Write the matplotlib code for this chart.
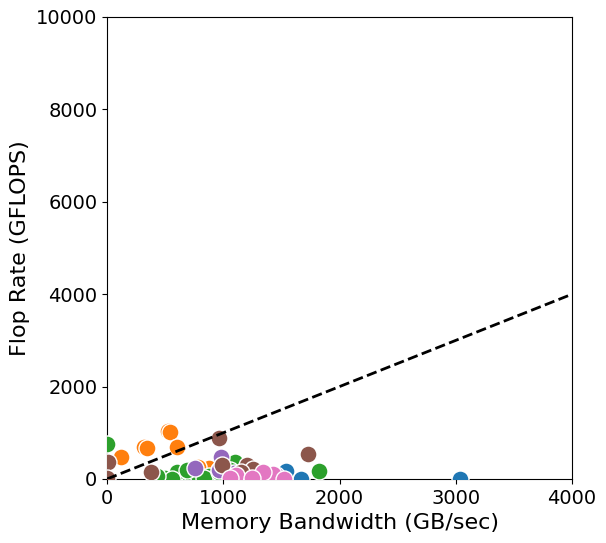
import numpy as np
import matplotlib.pyplot as plt

# Dados (GB/s, GFLOPS)
blue_bw = [3040, 1540, 1670, 1020, 1180]
blue_fl = [10, 170, 10, 60, 20]

orange_bw = [120, 320, 345, 525, 545, 600, 880, 780, 960, 1000]
orange_fl = [475, 690, 670, 1040, 1010, 690, 240, 260, 200, 180]

green_bw = [0, 1825, 500, 650, 730, 600, 1100, 1060, 880, 780, 830, 560, 430, 960, 1230, 690]
green_fl = [760, 170, 30, 20, 80, 150, 370, 200, 60, 90, 20, 10, 60, 160, 100, 200]

purple_bw = [760, 980, 960, 1090, 1450]
purple_fl = [240, 475, 200, 140, 80]

brown_bw = [10, 0, 380, 960, 990, 1200, 1730, 1260, 1150]
brown_fl = [370, 20, 150, 890, 300, 300, 540, 210, 160]

pink_bw = [1430, 1340, 1110, 1250, 1520, 1060]
pink_fl = [100, 150, 90, 20, 10, 30]

grupos = [
    (blue_bw, blue_fl, 'tab:blue'),
    (orange_bw, orange_fl, 'tab:orange'),
    (green_bw, green_fl, 'tab:green'),
    (purple_bw, purple_fl, 'tab:purple'),
    (brown_bw, brown_fl, 'tab:brown'),
    (pink_bw, pink_fl, 'tab:pink'),
]

fig = plt.figure(figsize=(6.06, 5.43), dpi=100)
ax = fig.add_axes([0.1766, 0.1179, 0.7673, 0.8508])

for bw, fl, cor in grupos:
    ax.scatter(bw, fl, s=150, color=cor, edgecolor='white', linewidth=1, zorder=3, clip_on=True)

# linha de referência
xs = np.array([0, 4000])
ax.plot(xs, xs, 'k--', lw=2, zorder=4)

ax.set_xlim(0, 4000)
ax.set_ylim(0, 10000)
ax.set_xticks([0, 1000, 2000, 3000, 4000])
ax.set_yticks([0, 2000, 4000, 6000, 8000, 10000])
ax.tick_params(labelsize=14)
ax.set_xlabel('Memory Bandwidth (GB/sec)', fontsize=16)
ax.set_ylabel('Flop Rate (GFLOPS)', fontsize=16)

fig.savefig('out.png', dpi=100)
